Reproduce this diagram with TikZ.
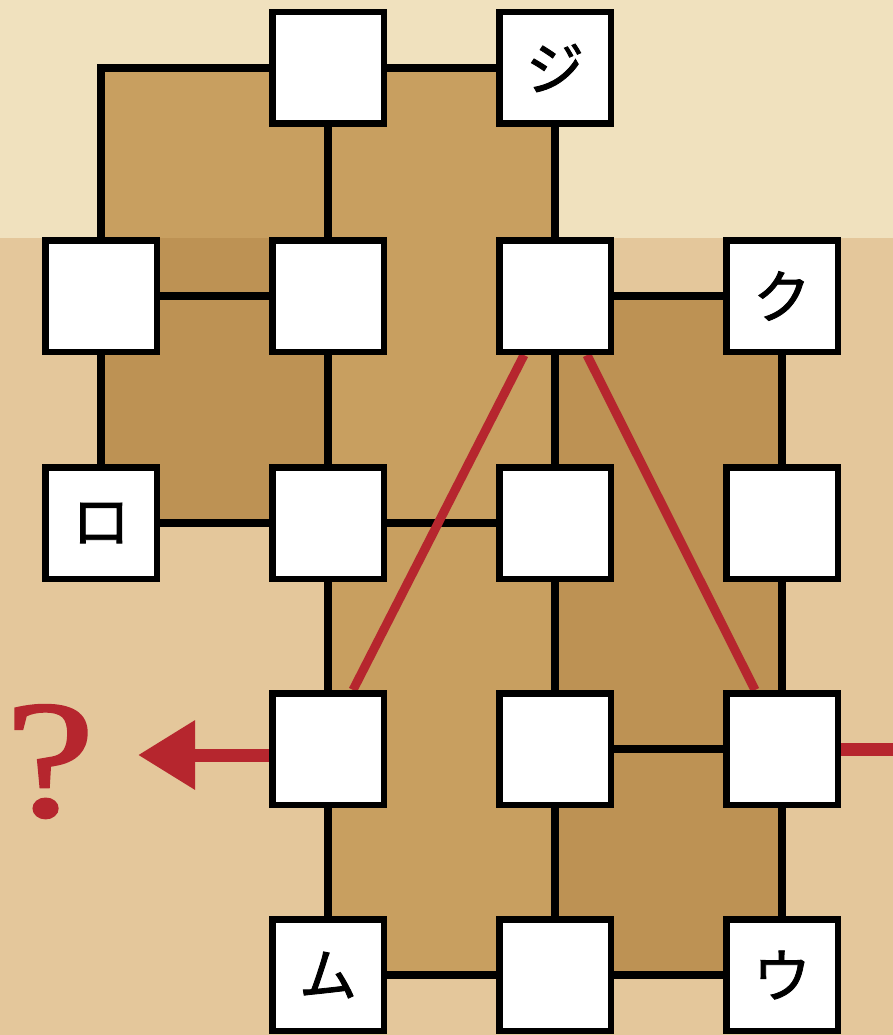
\documentclass[tikz,border=0pt]{standalone}
\usepackage{fontspec}
\newfontfamily\jp[FakeBold=1.5]{Noto Sans CJK JP}
\newfontfamily\qfont[FakeBold=1.2]{Liberation Serif}
\usetikzlibrary{backgrounds,arrows.meta}
\definecolor{bgtop}{HTML}{F0E1BE}
\definecolor{bgbot}{HTML}{E4C79B}
\definecolor{brownL}{HTML}{C89F60}
\definecolor{brownD}{HTML}{BD9254}
\definecolor{redc}{HTML}{B6262E}
\begin{document}
\begin{tikzpicture}[x=1pt,y=-1pt,
  cell/.style={draw=black, line width=6.5pt, fill=white, minimum size=111.5pt, inner sep=0pt,
    font=\jp\fontsize{58}{58}\selectfont},
  link/.style={draw=black, line width=7.5pt},
  redline/.style={draw=redc, line width=9pt},
  redthick/.style={draw=redc, line width=13pt},
]
\useasboundingbox (0,0) rectangle (893,1035);
% cells
\node[cell] (a1) at (328,68) {};
\node[cell] (a2) at (555,68) {ジ};
\node[cell] (b0) at (101,296) {};
\node[cell] (b1) at (328,296) {};
\node[cell] (b2) at (555,296) {};
\node[cell] (b3) at (782,296) {ク};
\node[cell] (c0) at (101,523) {ロ};
\node[cell] (c1) at (328,523) {};
\node[cell] (c2) at (555,523) {};
\node[cell] (c3) at (782,523) {};
\node[cell] (d1) at (328,749) {};
\node[cell] (d2) at (555,749) {};
\node[cell] (d3) at (782,749) {};
\node[cell] (e1) at (328,975) {ム};
\node[cell] (e2) at (555,975) {};
\node[cell] (e3) at (782,975) {ウ};
\coordinate (corner) at (101,68);
\coordinate (tip) at (138,755);
\coordinate (redend) at (896,749);
% question mark
\node[text=redc, font=\qfont\fontsize{168}{168}\selectfont, anchor=base, inner sep=0pt,
  xscale=1.2] (q) at (50,816) {?};
\begin{scope}[on background layer]
  \fill[bgtop] (0,0) rectangle (893,238);
  \fill[bgbot] (0,238) rectangle (893,1035);
  \fill[brownL] (101,68) -- (555,68) -- (555,296) -- (782,296) -- (782,975)
     -- (328,975) -- (328,523) -- (101,523) -- cycle;
  \fill[brownD] (101,238) rectangle (328,523);
  \fill[brownD] (555,296) rectangle (782,975);
  % black connectors
  \draw[link] (a1) -- (corner) -- (b0);
  \draw[link] (a1) -- (a2);
  \draw[link] (a1) -- (b1);
  \draw[link] (a2) -- (b2);
  \draw[link] (b0) -- (b1);
  \draw[link] (b2) -- (b3);
  \draw[link] (b0) -- (c0);
  \draw[link] (b1) -- (c1);
  \draw[link] (b2) -- (c2);
  \draw[link] (b3) -- (c3);
  \draw[link] (c0) -- (c1);
  \draw[link] (c1) -- (c2);
  \draw[link] (c1) -- (d1);
  \draw[link] (c2) -- (d2);
  \draw[link] (c3) -- (d3);
  \draw[link] (d2) -- (d3);
  \draw[link] (d1) -- (e1);
  \draw[link] (d2) -- (e2);
  \draw[link] (d3) -- (e3);
  \draw[link] (e1) -- (e2);
  \draw[link] (e2) -- (e3);
  % red connectors under the boxes
  \draw[redline] ([xshift=-31pt]b2.south) -- ([xshift=25pt]d1.north);
  \draw[redline] ([xshift=32pt]b2.south) -- ([xshift=-27pt]d3.north);
\end{scope}
\draw[redthick, -{Triangle[length=57pt,width=66pt]}] ([yshift=-6pt]d1.west) -- (tip);
\draw[redthick] (d3.east) -- (d3.east -| redend);
\end{tikzpicture}
\end{document}
